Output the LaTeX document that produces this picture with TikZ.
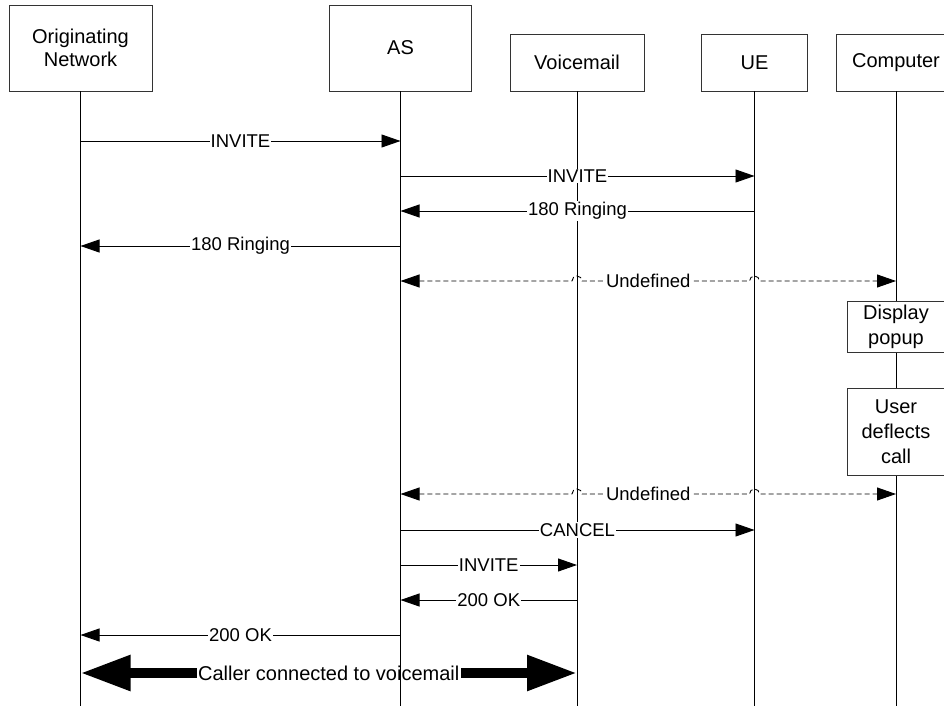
\documentclass[tikz,border=0pt]{standalone}
\usepackage{fontspec}
\setmainfont{Liberation Sans}
\usetikzlibrary{arrows.meta}

\tikzset{
  actor/.style={draw=black!80, fill=white, line width=0.9pt, inner sep=0pt, align=center,
    font=\fontsize{20}{23}\selectfont},
  action/.style={actor, minimum width=98pt, font=\fontsize{20}{25}\selectfont},
  life/.style={draw=black, line width=0.9pt},
  msg/.style={draw=black, line width=0.9pt, -{Triangle[length=19pt,width=13pt]}},
  undef/.style={msg, {Triangle[length=19pt,width=13pt]}-{Triangle[length=19pt,width=13pt]},
    dash pattern=on 5pt off 3pt},
  lbl/.style={fill=white, inner sep=1pt, font=\fontsize{18.5}{21}\selectfont},
  bigarrow/.style={line width=10pt, {Triangle[length=50pt,width=33.5pt]}-{Triangle[length=50pt,width=33.5pt]}},
  biglbl/.style={fill=white, inner sep=1.5pt, font=\fontsize{20}{23}\selectfont}
}

\begin{document}
\begin{tikzpicture}[x=1pt, y=-1pt]
        \useasboundingbox (0,0) rectangle (944,706);
        \clip (0,0) rectangle (944,706);
        \coordinate (bottom) at (0,706);

        \node (on) at (80.5, 48) [actor, minimum width=143pt, minimum height=86pt] {Originating\\Network};
        \node (as) at (400.5, 48) [actor, minimum width=142pt, minimum height=86pt] {AS};
        \node (vm) at (577, 62.5) [actor, minimum width=134pt, minimum height=57pt] {Voicemail};
        \node (ue) at (754.5, 62.5) [actor, minimum width=106pt, minimum height=57pt] {UE};
        \node (comp) at (896, 62.5) [actor, minimum width=120pt, minimum height=57pt] {Computer};

        \draw [bigarrow] (on.south |- 0,673) -- node [biglbl] (caller) {Caller connected to voicemail} (vm.south |- 0,673);

        \draw [life] (on.south) -- (on.south |- bottom);
        \draw [life] (as.south) -- (as.south |- bottom);
        \draw [life] (vm.south) -- (vm.south |- bottom);
        \draw [life] (ue.south) -- (ue.south |- bottom);
        \draw [life] (comp.south) -- (comp.south |- bottom);

        \node (popup) at (896, 327) [action, minimum height=51pt] {Display\\popup};
        \node (deflect) at (896, 431.5) [action, minimum height=87pt] {User\\deflects\\call};

        \draw [msg] (on.south |- 0,141) -- node [lbl] {INVITE} (as.south |- 0,141);
        \draw [msg] (as.south |- 0,176) -- node [lbl] {INVITE} (ue.south |- 0,176);
        \draw [msg] (ue.south |- 0,211) -- node [lbl] {180 Ringing} (as.south |- 0,211);
        \draw [msg] (as.south |- 0,246) -- node [lbl] {180 Ringing} (on.south |- 0,246);

        \draw [undef] (as.south |- 0,281) -- ([xshift=-5pt]vm.south |- 0,281) arc [start angle=180, end angle=0, radius=5pt]
              -- ([xshift=-5pt]ue.south |- 0,281) arc [start angle=180, end angle=0, radius=5pt] -- (comp.south |- 0,281);
        \path (as.south |- 0,281) -- node [lbl] {Undefined} (comp.south |- 0,281);

        \draw [undef] (as.south |- 0,494) -- ([xshift=-5pt]vm.south |- 0,494) arc [start angle=180, end angle=0, radius=5pt]
              -- ([xshift=-5pt]ue.south |- 0,494) arc [start angle=180, end angle=0, radius=5pt] -- (comp.south |- 0,494);
        \path (as.south |- 0,494) -- node [lbl] {Undefined} (comp.south |- 0,494);

        \draw [msg] (as.south |- 0,530) -- node [lbl] {CANCEL} (ue.south |- 0,530);
        \draw [msg] (as.south |- 0,565) -- node [lbl] {INVITE} (vm.south |- 0,565);
        \draw [msg] (vm.south |- 0,600) -- node [lbl] {200 OK} (as.south |- 0,600);
        \draw [msg] (as.south |- 0,635) -- node [lbl] {200 OK} (on.south |- 0,635);
      \end{tikzpicture}
\end{document}
